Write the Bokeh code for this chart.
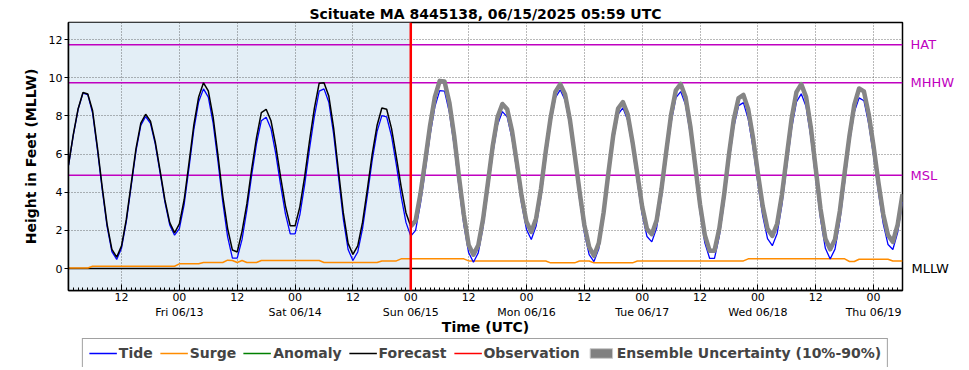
from bokeh.plotting import figure
from bokeh.layouts import column
from bokeh.models import (Range1d, FixedTicker, Span, BoxAnnotation, LinearAxis,
                          Legend, LegendItem, ColumnDataSource)
from bokeh.embed import file_html
from bokeh.resources import INLINE

# hours since 2025-06-12 01:00 UTC (hourly)
hours = list(range(174))
now_hour = 71  # 2025-06-15 00:00 UTC

tide = [5.40, 7.00, 8.35, 9.20, 9.12, 8.15, 6.23, 4.14, 2.21, 0.89, 0.48, 1.07,
        2.47, 4.32, 6.17, 7.51, 7.97, 7.61, 6.52, 5.02, 3.48, 2.29, 1.75, 2.09,
        3.37, 5.29, 7.28, 8.75, 9.42, 8.99, 7.62, 5.63, 3.48, 1.67, 0.55, 0.55,
        1.53, 3.07, 4.90, 6.55, 7.75, 7.93, 7.33, 6.01, 4.37, 2.87, 1.82, 1.82,
        2.83, 4.41, 6.28, 7.98, 9.30, 9.42, 8.72, 7.04, 4.81, 2.61, 1.00, 0.42,
        0.87, 2.11, 3.85, 5.68, 7.18, 8.02, 7.95, 6.95, 5.45, 3.79, 2.42, 1.70,
        2.00, 3.40, 5.15, 6.99, 8.49, 9.33, 9.30, 8.20, 6.45, 4.29, 2.32, 0.84,
        0.33, 0.82, 2.20, 4.09, 6.03, 7.54, 8.23, 7.95, 6.82, 5.14, 3.39, 2.05,
        1.52, 2.23, 3.77, 5.75, 7.60, 8.96, 9.37, 8.84, 7.52, 5.68, 3.67, 1.89,
        0.73, 0.37, 1.04, 2.64, 4.73, 6.69, 8.09, 8.43, 7.78, 6.33, 4.55, 2.84,
        1.68, 1.40, 2.13, 3.76, 5.75, 7.67, 8.96, 9.28, 8.58, 7.04, 5.02, 2.97,
        1.35, 0.53, 0.53, 1.70, 3.48, 5.58, 7.42, 8.54, 8.70, 7.84, 6.34, 4.49,
        2.77, 1.57, 1.20, 1.84, 3.38, 5.39, 7.35, 8.74, 9.16, 8.49, 6.87, 4.73,
        2.61, 1.06, 0.50, 1.02, 2.50, 4.52, 6.60, 8.21, 8.95, 8.80, 7.59, 5.92,
        4.03, 2.36, 1.26, 1.00, 1.90, 3.50]

surge = [0.03, 0.03, 0.03, 0.03, 0.03, 0.12, 0.12, 0.12, 0.12, 0.12, 0.12, 0.12,
         0.12, 0.12, 0.12, 0.12, 0.12, 0.12, 0.12, 0.12, 0.12, 0.12, 0.12, 0.25,
         0.25, 0.25, 0.25, 0.25, 0.32, 0.32, 0.32, 0.32, 0.32, 0.44, 0.42, 0.32,
         0.42, 0.32, 0.32, 0.32, 0.42, 0.42, 0.42, 0.42, 0.42, 0.42, 0.42, 0.42,
         0.42, 0.42, 0.42, 0.42, 0.42, 0.32, 0.32, 0.32, 0.32, 0.32, 0.32, 0.32,
         0.32, 0.32, 0.32, 0.32, 0.32, 0.40, 0.40, 0.40, 0.40, 0.51, 0.51, 0.51,
         0.51, 0.51, 0.51, 0.51, 0.51, 0.51, 0.51, 0.51, 0.51, 0.51, 0.51, 0.40,
         0.40, 0.40, 0.40, 0.40, 0.40, 0.40, 0.40, 0.40, 0.40, 0.40, 0.40, 0.40,
         0.40, 0.40, 0.40, 0.40, 0.30, 0.30, 0.30, 0.30, 0.30, 0.30, 0.40, 0.40,
         0.40, 0.30, 0.30, 0.30, 0.30, 0.30, 0.30, 0.30, 0.30, 0.30, 0.40, 0.40,
         0.40, 0.40, 0.40, 0.40, 0.40, 0.40, 0.40, 0.40, 0.40, 0.40, 0.40, 0.40,
         0.40, 0.40, 0.40, 0.40, 0.40, 0.40, 0.40, 0.40, 0.40, 0.51, 0.51, 0.51,
         0.51, 0.51, 0.51, 0.51, 0.51, 0.51, 0.51, 0.51, 0.51, 0.51, 0.51, 0.51,
         0.51, 0.51, 0.51, 0.51, 0.51, 0.51, 0.37, 0.37, 0.49, 0.49, 0.49, 0.49,
         0.49, 0.49, 0.49, 0.40, 0.40, 0.40]

forecast = [5.43, 7.03, 8.38, 9.23, 9.15, 8.27, 6.35, 4.26, 2.33, 1.01, 0.60, 1.19,
            2.59, 4.44, 6.29, 7.63, 8.09, 7.73, 6.64, 5.14, 3.60, 2.41, 1.87, 2.34,
            3.62, 5.54, 7.53, 9.00, 9.74, 9.31, 7.94, 5.95, 3.80, 2.11, 0.97, 0.87,
            1.95, 3.39, 5.22, 6.87, 8.17, 8.35, 7.75, 6.43, 4.79, 3.29, 2.24, 2.24,
            3.25, 4.83, 6.70, 8.40, 9.72, 9.74, 9.04, 7.36, 5.13, 2.93, 1.32, 0.74,
            1.19, 2.43, 4.17, 6.00, 7.50, 8.42, 8.35, 7.35, 5.85, 4.30, 2.93, 2.21,
            2.51, 3.91, 5.66, 7.50, 9.00, 9.84, 9.81, 8.71, 6.96, 4.80, 2.83, 1.24,
            0.73, 1.22, 2.60, 4.49, 6.43, 7.94, 8.63, 8.35, 7.22, 5.54, 3.79, 2.45,
            1.92, 2.63, 4.17, 6.15, 7.90, 9.26, 9.67, 9.14, 7.82, 5.98, 4.07, 2.29,
            1.13, 0.67, 1.34, 2.94, 5.03, 6.99, 8.39, 8.73, 8.08, 6.63, 4.95, 3.24,
            2.08, 1.80, 2.53, 4.16, 6.15, 8.07, 9.36, 9.68, 8.98, 7.44, 5.42, 3.37,
            1.75, 0.93, 0.93, 2.10, 3.88, 5.98, 7.82, 8.94, 9.10, 8.35, 6.85, 5.00,
            3.28, 2.08, 1.71, 2.35, 3.89, 5.90, 7.86, 9.25, 9.67, 9.00, 7.38, 5.24,
            3.12, 1.57, 1.01, 1.53, 3.01, 5.03, 6.97, 8.58, 9.44, 9.29, 8.08, 6.41,
            4.52, 2.85, 1.75, 1.40, 2.30, 3.90]

# no anomaly / observation values are drawn in the reference
anomaly = [float("nan")]
observation = [float("nan")]

magenta_names = ["HAT", "MHHW", "MSL"]
magenta_values = [11.74, 9.74, 4.89]
mllw_name = "MLLW"
mllw_value = 0.0
MAGENTA = "#c000c0"

tick_hours = [11, 23, 35, 47, 59, 71, 83, 95, 107, 119, 131, 143, 155, 167]
tick_labels = ["12", "00\nFri 06/13", "12", "00\nSat 06/14", "12", "00\nSun 06/15",
               "12", "00\nMon 06/16", "12", "00\nTue 06/17", "12", "00\nWed 06/18",
               "12", "00\nThu 06/19"]
y_ticks = [0, 2, 4, 6, 8, 10, 12]

legend_labels = ["Tide", "Surge", "Anomaly", "Forecast", "Observation",
                 "Ensemble Uncertainty (10%-90%)"]

title_text = "Scituate MA 8445138, 06/15/2025 05:59 UTC"
FONT = "DejaVu Sans"

C_TIDE, C_SURGE, C_ANOM, C_FC, C_OBS = "#0000ff", "darkorange", "green", "black", "red"
C_ENS = "#858585"

x_end = hours[-1]
p = figure(width=969, height=338,
           x_range=Range1d(0, x_end), y_range=Range1d(-1.15, 12.9), title=title_text,
           output_backend="svg", toolbar_location=None,
           min_border_left=68, min_border_right=67, min_border_top=22, min_border_bottom=0)

p.title.align = "center"
p.title.text_font = FONT
p.title.text_font_size = "14px"
p.title.text_font_style = "bold"
p.title.text_color = "black"
p.title.standoff = 2

p.background_fill_color = "white"
p.outline_line_color = "black"
p.outline_line_width = 1.5

# past shading
p.add_layout(BoxAnnotation(right=now_hour, fill_color="#e3eef6", fill_alpha=1.0,
                           line_color=None, level="image"))

# grids
for g in (p.xgrid, p.ygrid):
    g.grid_line_color = "#444444"
    g.grid_line_dash = "1 2"
    g.grid_line_width = 1
    g.grid_line_alpha = 0.75
p.xgrid.ticker = FixedTicker(ticks=tick_hours)
p.ygrid.ticker = FixedTicker(ticks=y_ticks)

# datum lines
for val in magenta_values:
    p.add_layout(Span(location=val, dimension="width", line_color=MAGENTA,
                      line_width=1.5, level="underlay"))
p.add_layout(Span(location=mllw_value, dimension="width", line_color="black",
                  line_width=1.5, level="underlay"))

src = ColumnDataSource(dict(t=hours, tide=tide, surge=surge, forecast=forecast))
p.line("t", "surge", source=src, line_color=C_SURGE, line_width=1.5)
p.line("t", "tide", source=src, line_color=C_TIDE, line_width=1.3)
p.line("t", "forecast", source=src, line_color=C_FC, line_width=1.5)
p.line(hours[now_hour:], forecast[now_hour:], line_color=C_ENS, line_width=4.5,
       line_join="round")
p.line(anomaly, anomaly, line_color=C_ANOM, line_width=1.5)
p.line(observation, observation, line_color=C_OBS, line_width=1.5)

p.add_layout(Span(location=now_hour, dimension="height", line_color="red", line_width=2.5))

# axes
xa = p.xaxis[0]
xa.ticker = FixedTicker(ticks=tick_hours, minor_ticks=hours)
xa.major_label_overrides = {h: l for h, l in zip(tick_hours, tick_labels)}
xa.major_tick_in = 6
xa.major_tick_out = 0
xa.minor_tick_in = 3
xa.minor_tick_out = 0
xa.major_label_standoff = 0
xa.axis_label = "Time (UTC)"
xa.axis_label_standoff = -3

ya = p.yaxis[0]
ya.ticker = FixedTicker(ticks=y_ticks)
ya.major_tick_in = 0
ya.major_tick_out = 4
ya.major_label_standoff = 2
ya.axis_label = "Height in Feet (MLLW)"
ya.axis_label_standoff = 7

for ax in (xa, ya):
    ax.axis_line_color = "black"
    ax.axis_line_width = 1.5
    ax.major_tick_line_color = "black"
    ax.major_label_text_font = FONT
    ax.major_label_text_font_size = "11px"
    ax.major_label_text_color = "black"
    ax.axis_label_text_font = FONT
    ax.axis_label_text_font_size = "14px"
    ax.axis_label_text_font_style = "bold"
    ax.axis_label_text_color = "black"
xa.minor_tick_line_color = "black"
ya.minor_tick_line_color = None

# datum names on the right
ra = LinearAxis(ticker=FixedTicker(ticks=magenta_values),
                major_label_overrides={v: n for v, n in zip(magenta_values, magenta_names)})
rb = LinearAxis(ticker=FixedTicker(ticks=[mllw_value]),
                major_label_overrides={mllw_value: mllw_name})
for ax, col, so in ((ra, MAGENTA, 2), (rb, "black", -52)):
    ax.axis_line_color = None
    ax.major_tick_line_color = None
    ax.minor_tick_line_color = None
    ax.major_label_standoff = so
    ax.major_label_text_font = FONT
    ax.major_label_text_font_size = "13px"
    ax.major_label_text_color = col
p.add_layout(ra, "right")
p.add_layout(rb, "right")

# legend strip below the chart
lf = figure(width=969, height=29, x_range=Range1d(0, 1), y_range=Range1d(0, 1),
            x_axis_location=None, y_axis_location=None, toolbar_location=None,
            output_backend="svg", min_border=0)
lf.outline_line_color = None
lf.xgrid.visible = False
lf.ygrid.visible = False
k_tide = lf.line(anomaly, anomaly, line_color=C_TIDE, line_width=1.3)
k_surge = lf.line(anomaly, anomaly, line_color=C_SURGE, line_width=1.5)
k_anom = lf.line(anomaly, anomaly, line_color=C_ANOM, line_width=1.5)
k_fc = lf.line(anomaly, anomaly, line_color=C_FC, line_width=1.5)
k_obs = lf.line(observation, observation, line_color=C_OBS, line_width=1.5)
k_ens = lf.quad(left=anomaly, right=anomaly, top=anomaly, bottom=anomaly,
                fill_color="#808080", line_color="#c8c8c8", line_width=1)
legend = Legend(items=[LegendItem(label=lab, renderers=[r]) for lab, r in
                       zip(legend_labels, [k_tide, k_surge, k_anom, k_fc, k_obs, k_ens])],
                orientation="horizontal", location="center")
legend.label_text_font = FONT
legend.label_text_font_style = "bold"
legend.label_text_font_size = "14px"
legend.label_standoff = 2
legend.glyph_width = 28
legend.glyph_height = 12
legend.spacing = 7
legend.padding = 6
legend.margin = 0
legend.border_line_color = "#444444"
legend.border_line_width = 1
legend.background_fill_alpha = 1
lf.add_layout(legend)

layout = column(p, lf, spacing=0)
open("out.html", "w").write(file_html(layout, INLINE))
